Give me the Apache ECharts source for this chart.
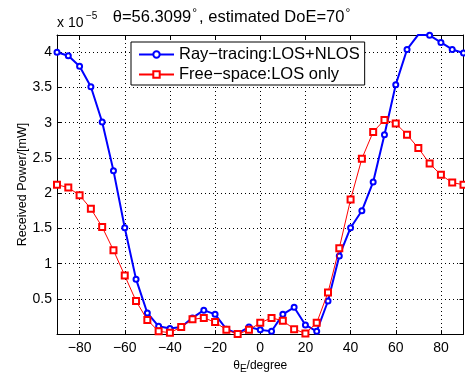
<!DOCTYPE html>
<html>
<head>
<meta charset="utf-8">
<script src="https://cdn.jsdelivr.net/npm/echarts@6/dist/echarts.min.js"></script>
<style>
html,body{margin:0;padding:0;background:#fff;}
#c{width:465px;height:379px;}
</style>
</head>
<body>
<div id="c"></div>
<script>
// angle of elevation (degree)
const angles = [-90,-85,-80,-75,-70,-65,-60,-55,-50,-45,-40,-35,-30,-25,-20,-15,-10,-5,0,5,10,15,20,25,30,35,40,45,50,55,60,65,70,75,80,85,90];
// received power, units of 1e-5 mW
const rayTracing = [4.00,3.95,3.80,3.51,3.01,2.32,1.51,0.78,0.30,0.11,0.08,0.10,0.23,0.34,0.28,0.07,0.01,0.10,0.06,0.04,0.28,0.38,0.13,0.04,0.47,1.11,1.51,1.75,2.16,2.83,3.54,4.04,4.25,4.24,4.14,4.04,3.99];
const freeSpace = [2.12,2.08,1.97,1.78,1.52,1.19,0.83,0.47,0.20,0.04,0.02,0.10,0.21,0.23,0.17,0.06,0.00,0.06,0.16,0.23,0.19,0.07,0.01,0.16,0.59,1.22,1.91,2.49,2.87,3.04,2.99,2.83,2.64,2.42,2.26,2.15,2.12];
const xTicks = [-80,-60,-40,-20,0,20,40,60,80];
const yTicks = [0,0.5,1,1.5,2,2.5,3,3.5,4];
const yLabels = [0.5,1,1.5,2,2.5,3,3.5,4];
const seriesNames = ['Ray\u2212tracing:LOS+NLOS','Free\u2212space:LOS only'];

const FONT = 'Liberation Sans, Arial, Helvetica, sans-serif';
const pair = (xs, ys) => xs.map((x, i) => [x, ys[i]]);
const fmtMinus = v => String(v).replace('-', '\u2212');

const chart = echarts.init(document.getElementById('c'), null, {renderer: 'canvas'});
const baseAxis = {
  type: 'value',
  axisLine: {show: true, onZero: false, lineStyle: {color: '#000', width: 1}},
  axisTick: {show: true, inside: true, length: 4, lineStyle: {color: '#000'}},
};
chart.setOption({
  animation: false,
  backgroundColor: '#fff',
  title: {
    text: '{a|\u03b8=56.3099}{s|\u00b0}{a|, estimated DoE=70}{s|\u00b0}',
    left: 'center', top: 3,
    textStyle: {
      fontWeight: 'normal',
      rich: {
        a: {fontFamily: FONT, fontSize: 16.5, fontWeight: 'normal', color: '#000'},
        s: {fontFamily: FONT, fontSize: 12, fontWeight: 'normal', color: '#000', verticalAlign: 'top', padding: [0, 2, 6, 1]}
      }
    }
  },
  grid: {left: 57, right: 1.5, top: 35, bottom: 43},
  legend: {
    orient: 'vertical',
    left: 131, top: 42,
    backgroundColor: '#fff',
    borderColor: '#000', borderWidth: 1,
    padding: [4, 5, 2, 7],
    itemGap: 3,
    itemWidth: 35, itemHeight: 8,
    textStyle: {fontFamily: FONT, fontSize: 16.5, color: '#000'},
    data: seriesNames
  },
  xAxis: [
    Object.assign({}, baseAxis, {
      min: -90, max: 90, position: 'bottom',
      axisTick: Object.assign({}, baseAxis.axisTick, {customValues: xTicks}),
      axisLabel: {customValues: xTicks, formatter: fmtMinus, margin: 7, color: '#000', fontFamily: FONT, fontSize: 14},
      splitLine: {show: true, lineStyle: {color: '#000', type: [1, 3], width: 1}},
      name: '{a|\u03b8}{b|E}{a|/degree}',
      nameLocation: 'middle', nameGap: 20,
      nameTextStyle: {rich: {
        a: {fontFamily: FONT, fontSize: 12, color: '#000'},
        b: {fontFamily: FONT, fontSize: 10, color: '#000', verticalAlign: 'bottom', padding: [6, 0, 0, 0]}
      }}
    }),
    Object.assign({}, baseAxis, {
      min: -90, max: 90, position: 'top',
      axisTick: Object.assign({}, baseAxis.axisTick, {customValues: xTicks}),
      axisLabel: {show: false}, splitLine: {show: false}
    })
  ],
  yAxis: [
    Object.assign({}, baseAxis, {
      min: 0, max: 4.245, position: 'left',
      axisTick: Object.assign({}, baseAxis.axisTick, {customValues: yTicks}),
      axisLabel: {customValues: yLabels, margin: 5, color: '#000', fontFamily: FONT, fontSize: 14},
      splitLine: {show: true, lineStyle: {color: '#000', type: [1, 3], width: 1}},
      name: 'Received Power/[mW]',
      nameLocation: 'middle', nameGap: 28, nameMoveOverlap: false,
      nameTextStyle: {fontFamily: FONT, fontSize: 12.5, color: '#000'}
    }),
    Object.assign({}, baseAxis, {
      min: 0, max: 4.245, position: 'right',
      axisTick: Object.assign({}, baseAxis.axisTick, {customValues: yTicks}),
      axisLabel: {show: false}, splitLine: {show: false}
    })
  ],
  graphic: [
    {type: 'text', left: 57, top: 16, style: {text: 'x 10', fontFamily: FONT, fontSize: 14, fill: '#000'}},
    {type: 'text', left: 86, top: 11, style: {text: '\u22125', fontFamily: FONT, fontSize: 10, fill: '#000'}}
  ],
  series: [
    {
      name: seriesNames[0], type: 'line', data: pair(angles, rayTracing),
      color: '#0000ff',
      lineStyle: {width: 2, color: '#0000ff'},
      symbol: 'emptyCircle', symbolSize: 5,
      itemStyle: {color: '#0000ff', borderWidth: 1.5},
      z: 3
    },
    {
      name: seriesNames[1], type: 'line', data: pair(angles, freeSpace),
      color: '#ff0000',
      lineStyle: {width: 1, color: '#ff0000'},
      symbol: 'emptyRect', symbolSize: 6,
      itemStyle: {color: '#ff0000', borderWidth: 1},
      z: 4
    }
  ]
});
</script>
</body>
</html>
